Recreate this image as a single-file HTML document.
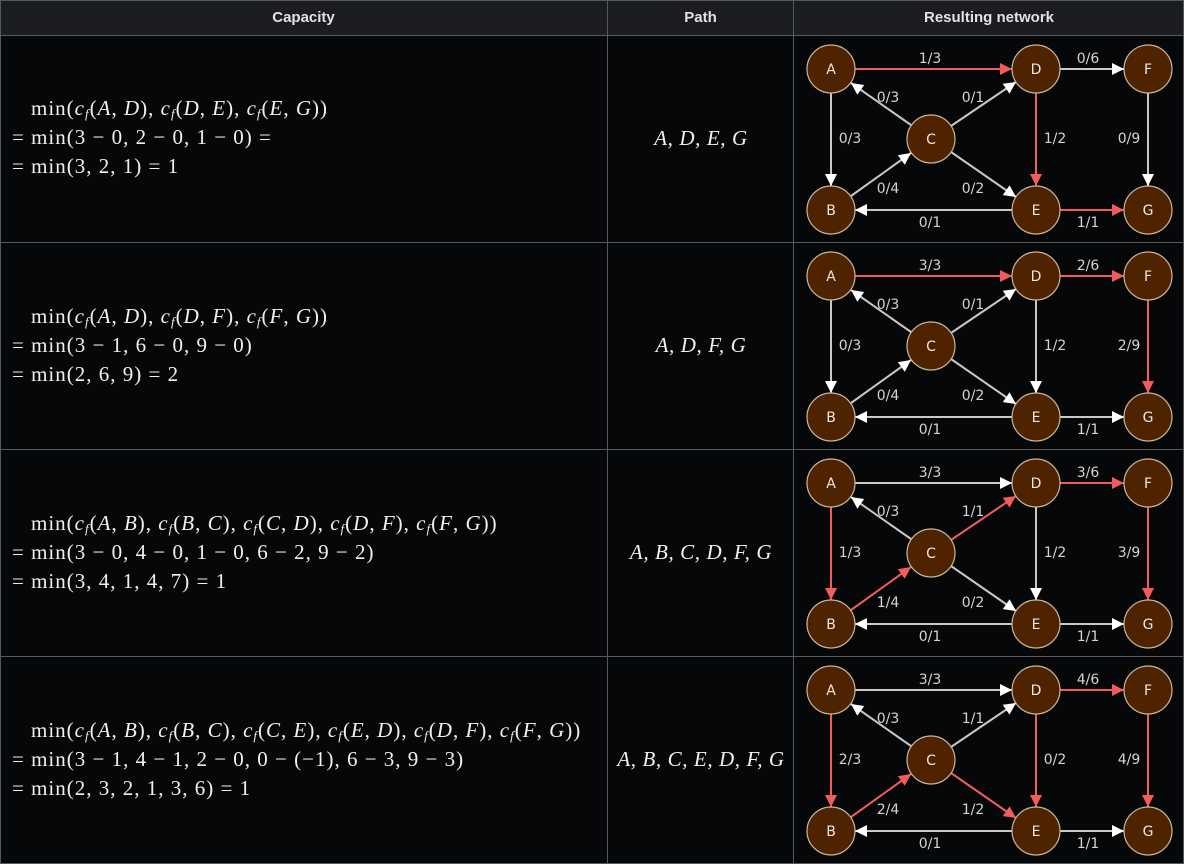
<!DOCTYPE html>
<html><head><meta charset="utf-8"><style>
html,body{margin:0;padding:0;background:#060709;}
body{width:1184px;height:864px;position:relative;overflow:hidden;font-family:"Liberation Sans",sans-serif;}
.hd{position:absolute;top:0;height:35px;line-height:35px;background:#1b1d21;color:#e2e2e2;font-weight:bold;font-size:15px;text-align:center;}
.m{position:absolute;left:12px;font-family:"Liberation Serif",serif;font-size:21px;letter-spacing:1px;color:#f0f0f0;white-space:nowrap;line-height:29px;}
.m i{font-style:italic}
.m sub{font-size:13px;font-style:italic;vertical-align:-3px;line-height:0}
.p{position:absolute;left:608px;width:186px;text-align:center;font-family:"Liberation Serif",serif;font-size:21px;letter-spacing:0.6px;font-style:italic;color:#f0f0f0;}
.ind{padding-left:19px}
</style></head><body>
<div class="hd" style="left:0;width:607px">Capacity</div>
<div class="hd" style="left:608px;width:185px">Path</div>
<div class="hd" style="left:794px;width:390px">Resulting network</div>

<svg width="1184" height="864" style="position:absolute;left:0;top:0" xmlns="http://www.w3.org/2000/svg">
<defs>
<marker id="w" markerUnits="userSpaceOnUse" markerWidth="13" markerHeight="13" refX="12" refY="6" orient="auto"><path d="M0,0L12,6L0,12z" fill="#ffffff"/></marker>
<marker id="r" markerUnits="userSpaceOnUse" markerWidth="13" markerHeight="13" refX="12" refY="6" orient="auto"><path d="M0,0L12,6L0,12z" fill="#f25c5c"/></marker>
<g id="nodes" font-family="DejaVu Sans,Liberation Sans,sans-serif" font-size="14" fill="#f0e8e0" text-anchor="middle">
<g fill="#4f2300" stroke="#c9b89c" stroke-width="1.2">
<circle cx="831" cy="33" r="24"/><circle cx="1036" cy="33" r="24"/><circle cx="1148" cy="33" r="24"/>
<circle cx="931" cy="103" r="24"/><circle cx="831" cy="174" r="24"/><circle cx="1036" cy="174" r="24"/><circle cx="1148" cy="174" r="24"/>
</g>
<text x="831" y="38">A</text><text x="1036" y="38">D</text><text x="1148" y="38">F</text><text x="931" y="108">C</text><text x="831" y="179">B</text><text x="1036" y="179">E</text><text x="1148" y="179">G</text>
</g>
</defs>
<g stroke="#55585d" stroke-width="1" fill="none">
<rect x="0.5" y="0.5" width="1183" height="863"/>
<line x1="0" y1="35.5" x2="1184" y2="35.5"/><line x1="0" y1="242.5" x2="1184" y2="242.5"/><line x1="0" y1="449.5" x2="1184" y2="449.5"/><line x1="0" y1="656.5" x2="1184" y2="656.5"/>
<line x1="607.5" y1="0" x2="607.5" y2="864"/><line x1="793.5" y1="0" x2="793.5" y2="864"/>
</g>

<g transform="translate(0,36)">
<g stroke-width="2" fill="none">
<line x1="855" y1="33" x2="1012" y2="33" stroke="#f25c5c" marker-end="url(#r)"/>
<line x1="1060" y1="33" x2="1124" y2="33" stroke="#c8c8c8" marker-end="url(#w)"/>
<line x1="911" y1="89" x2="851" y2="47" stroke="#c8c8c8" marker-end="url(#w)"/>
<line x1="951" y1="90" x2="1016" y2="46" stroke="#c8c8c8" marker-end="url(#w)"/>
<line x1="831" y1="57" x2="831" y2="150" stroke="#c8c8c8" marker-end="url(#w)"/>
<line x1="1036" y1="57" x2="1036" y2="150" stroke="#f25c5c" marker-end="url(#r)"/>
<line x1="1148" y1="57" x2="1148" y2="150" stroke="#c8c8c8" marker-end="url(#w)"/>
<line x1="851" y1="160" x2="911" y2="117" stroke="#c8c8c8" marker-end="url(#w)"/>
<line x1="951" y1="116" x2="1016" y2="161" stroke="#c8c8c8" marker-end="url(#w)"/>
<line x1="1012" y1="174" x2="855" y2="174" stroke="#c8c8c8" marker-end="url(#w)"/>
<line x1="1060" y1="174" x2="1124" y2="174" stroke="#f25c5c" marker-end="url(#r)"/>
</g>
<use href="#nodes"/>
<g font-family="DejaVu Sans,Liberation Sans,sans-serif" font-size="14" fill="#d4d4d4" text-anchor="middle">
<text x="930" y="27">1/3</text><text x="1088" y="27">0/6</text><text x="888" y="66">0/3</text><text x="973" y="66">0/1</text>
<text x="850" y="107">0/3</text><text x="1055" y="107">1/2</text><text x="1129" y="107">0/9</text>
<text x="888" y="157">0/4</text><text x="973" y="157">0/2</text><text x="930" y="191">0/1</text><text x="1088" y="191">1/1</text>
</g>
</g>

<g transform="translate(0,243)">
<g stroke-width="2" fill="none">
<line x1="855" y1="33" x2="1012" y2="33" stroke="#f25c5c" marker-end="url(#r)"/>
<line x1="1060" y1="33" x2="1124" y2="33" stroke="#f25c5c" marker-end="url(#r)"/>
<line x1="911" y1="89" x2="851" y2="47" stroke="#c8c8c8" marker-end="url(#w)"/>
<line x1="951" y1="90" x2="1016" y2="46" stroke="#c8c8c8" marker-end="url(#w)"/>
<line x1="831" y1="57" x2="831" y2="150" stroke="#c8c8c8" marker-end="url(#w)"/>
<line x1="1036" y1="57" x2="1036" y2="150" stroke="#c8c8c8" marker-end="url(#w)"/>
<line x1="1148" y1="57" x2="1148" y2="150" stroke="#f25c5c" marker-end="url(#r)"/>
<line x1="851" y1="160" x2="911" y2="117" stroke="#c8c8c8" marker-end="url(#w)"/>
<line x1="951" y1="116" x2="1016" y2="161" stroke="#c8c8c8" marker-end="url(#w)"/>
<line x1="1012" y1="174" x2="855" y2="174" stroke="#c8c8c8" marker-end="url(#w)"/>
<line x1="1060" y1="174" x2="1124" y2="174" stroke="#c8c8c8" marker-end="url(#w)"/>
</g>
<use href="#nodes"/>
<g font-family="DejaVu Sans,Liberation Sans,sans-serif" font-size="14" fill="#d4d4d4" text-anchor="middle">
<text x="930" y="27">3/3</text><text x="1088" y="27">2/6</text><text x="888" y="66">0/3</text><text x="973" y="66">0/1</text>
<text x="850" y="107">0/3</text><text x="1055" y="107">1/2</text><text x="1129" y="107">2/9</text>
<text x="888" y="157">0/4</text><text x="973" y="157">0/2</text><text x="930" y="191">0/1</text><text x="1088" y="191">1/1</text>
</g>
</g>

<g transform="translate(0,450)">
<g stroke-width="2" fill="none">
<line x1="855" y1="33" x2="1012" y2="33" stroke="#c8c8c8" marker-end="url(#w)"/>
<line x1="1060" y1="33" x2="1124" y2="33" stroke="#f25c5c" marker-end="url(#r)"/>
<line x1="911" y1="89" x2="851" y2="47" stroke="#c8c8c8" marker-end="url(#w)"/>
<line x1="951" y1="90" x2="1016" y2="46" stroke="#f25c5c" marker-end="url(#r)"/>
<line x1="831" y1="57" x2="831" y2="150" stroke="#f25c5c" marker-end="url(#r)"/>
<line x1="1036" y1="57" x2="1036" y2="150" stroke="#c8c8c8" marker-end="url(#w)"/>
<line x1="1148" y1="57" x2="1148" y2="150" stroke="#f25c5c" marker-end="url(#r)"/>
<line x1="851" y1="160" x2="911" y2="117" stroke="#f25c5c" marker-end="url(#r)"/>
<line x1="951" y1="116" x2="1016" y2="161" stroke="#c8c8c8" marker-end="url(#w)"/>
<line x1="1012" y1="174" x2="855" y2="174" stroke="#c8c8c8" marker-end="url(#w)"/>
<line x1="1060" y1="174" x2="1124" y2="174" stroke="#c8c8c8" marker-end="url(#w)"/>
</g>
<use href="#nodes"/>
<g font-family="DejaVu Sans,Liberation Sans,sans-serif" font-size="14" fill="#d4d4d4" text-anchor="middle">
<text x="930" y="27">3/3</text><text x="1088" y="27">3/6</text><text x="888" y="66">0/3</text><text x="973" y="66">1/1</text>
<text x="850" y="107">1/3</text><text x="1055" y="107">1/2</text><text x="1129" y="107">3/9</text>
<text x="888" y="157">1/4</text><text x="973" y="157">0/2</text><text x="930" y="191">0/1</text><text x="1088" y="191">1/1</text>
</g>
</g>

<g transform="translate(0,657)">
<g stroke-width="2" fill="none">
<line x1="855" y1="33" x2="1012" y2="33" stroke="#c8c8c8" marker-end="url(#w)"/>
<line x1="1060" y1="33" x2="1124" y2="33" stroke="#f25c5c" marker-end="url(#r)"/>
<line x1="911" y1="89" x2="851" y2="47" stroke="#c8c8c8" marker-end="url(#w)"/>
<line x1="951" y1="90" x2="1016" y2="46" stroke="#c8c8c8" marker-end="url(#w)"/>
<line x1="831" y1="57" x2="831" y2="150" stroke="#f25c5c" marker-end="url(#r)"/>
<line x1="1036" y1="57" x2="1036" y2="150" stroke="#f25c5c" marker-end="url(#r)"/>
<line x1="1148" y1="57" x2="1148" y2="150" stroke="#f25c5c" marker-end="url(#r)"/>
<line x1="851" y1="160" x2="911" y2="117" stroke="#f25c5c" marker-end="url(#r)"/>
<line x1="951" y1="116" x2="1016" y2="161" stroke="#f25c5c" marker-end="url(#r)"/>
<line x1="1012" y1="174" x2="855" y2="174" stroke="#c8c8c8" marker-end="url(#w)"/>
<line x1="1060" y1="174" x2="1124" y2="174" stroke="#c8c8c8" marker-end="url(#w)"/>
</g>
<use href="#nodes"/>
<g font-family="DejaVu Sans,Liberation Sans,sans-serif" font-size="14" fill="#d4d4d4" text-anchor="middle">
<text x="930" y="27">3/3</text><text x="1088" y="27">4/6</text><text x="888" y="66">0/3</text><text x="973" y="66">1/1</text>
<text x="850" y="107">2/3</text><text x="1055" y="107">0/2</text><text x="1129" y="107">4/9</text>
<text x="888" y="157">2/4</text><text x="973" y="157">1/2</text><text x="930" y="191">0/1</text><text x="1088" y="191">1/1</text>
</g>
</g>
</svg>

<div class="m" style="top:94px">
<div class="ind">min(<i>c</i><sub>f</sub>(<i>A</i>, <i>D</i>), <i>c</i><sub>f</sub>(<i>D</i>, <i>E</i>), <i>c</i><sub>f</sub>(<i>E</i>, <i>G</i>))</div>
<div>= min(3 − 0, 2 − 0, 1 − 0) =</div>
<div>= min(3, 2, 1) = 1</div>
</div>
<div class="p" style="top:126px">A, D, E, G</div>

<div class="m" style="top:302px">
<div class="ind">min(<i>c</i><sub>f</sub>(<i>A</i>, <i>D</i>), <i>c</i><sub>f</sub>(<i>D</i>, <i>F</i>), <i>c</i><sub>f</sub>(<i>F</i>, <i>G</i>))</div>
<div>= min(3 − 1, 6 − 0, 9 − 0)</div>
<div>= min(2, 6, 9) = 2</div>
</div>
<div class="p" style="top:333px">A, D, F, G</div>

<div class="m" style="top:509px">
<div class="ind">min(<i>c</i><sub>f</sub>(<i>A</i>, <i>B</i>), <i>c</i><sub>f</sub>(<i>B</i>, <i>C</i>), <i>c</i><sub>f</sub>(<i>C</i>, <i>D</i>), <i>c</i><sub>f</sub>(<i>D</i>, <i>F</i>), <i>c</i><sub>f</sub>(<i>F</i>, <i>G</i>))</div>
<div>= min(3 − 0, 4 − 0, 1 − 0, 6 − 2, 9 − 2)</div>
<div>= min(3, 4, 1, 4, 7) = 1</div>
</div>
<div class="p" style="top:540px">A, B, C, D, F, G</div>

<div class="m" style="top:716px">
<div class="ind">min(<i>c</i><sub>f</sub>(<i>A</i>, <i>B</i>), <i>c</i><sub>f</sub>(<i>B</i>, <i>C</i>), <i>c</i><sub>f</sub>(<i>C</i>, <i>E</i>), <i>c</i><sub>f</sub>(<i>E</i>, <i>D</i>), <i>c</i><sub>f</sub>(<i>D</i>, <i>F</i>), <i>c</i><sub>f</sub>(<i>F</i>, <i>G</i>))</div>
<div>= min(3 − 1, 4 − 1, 2 − 0, 0 − (−1), 6 − 3, 9 − 3)</div>
<div>= min(2, 3, 2, 1, 3, 6) = 1</div>
</div>
<div class="p" style="top:747px">A, B, C, E, D, F, G</div>
</body></html>
